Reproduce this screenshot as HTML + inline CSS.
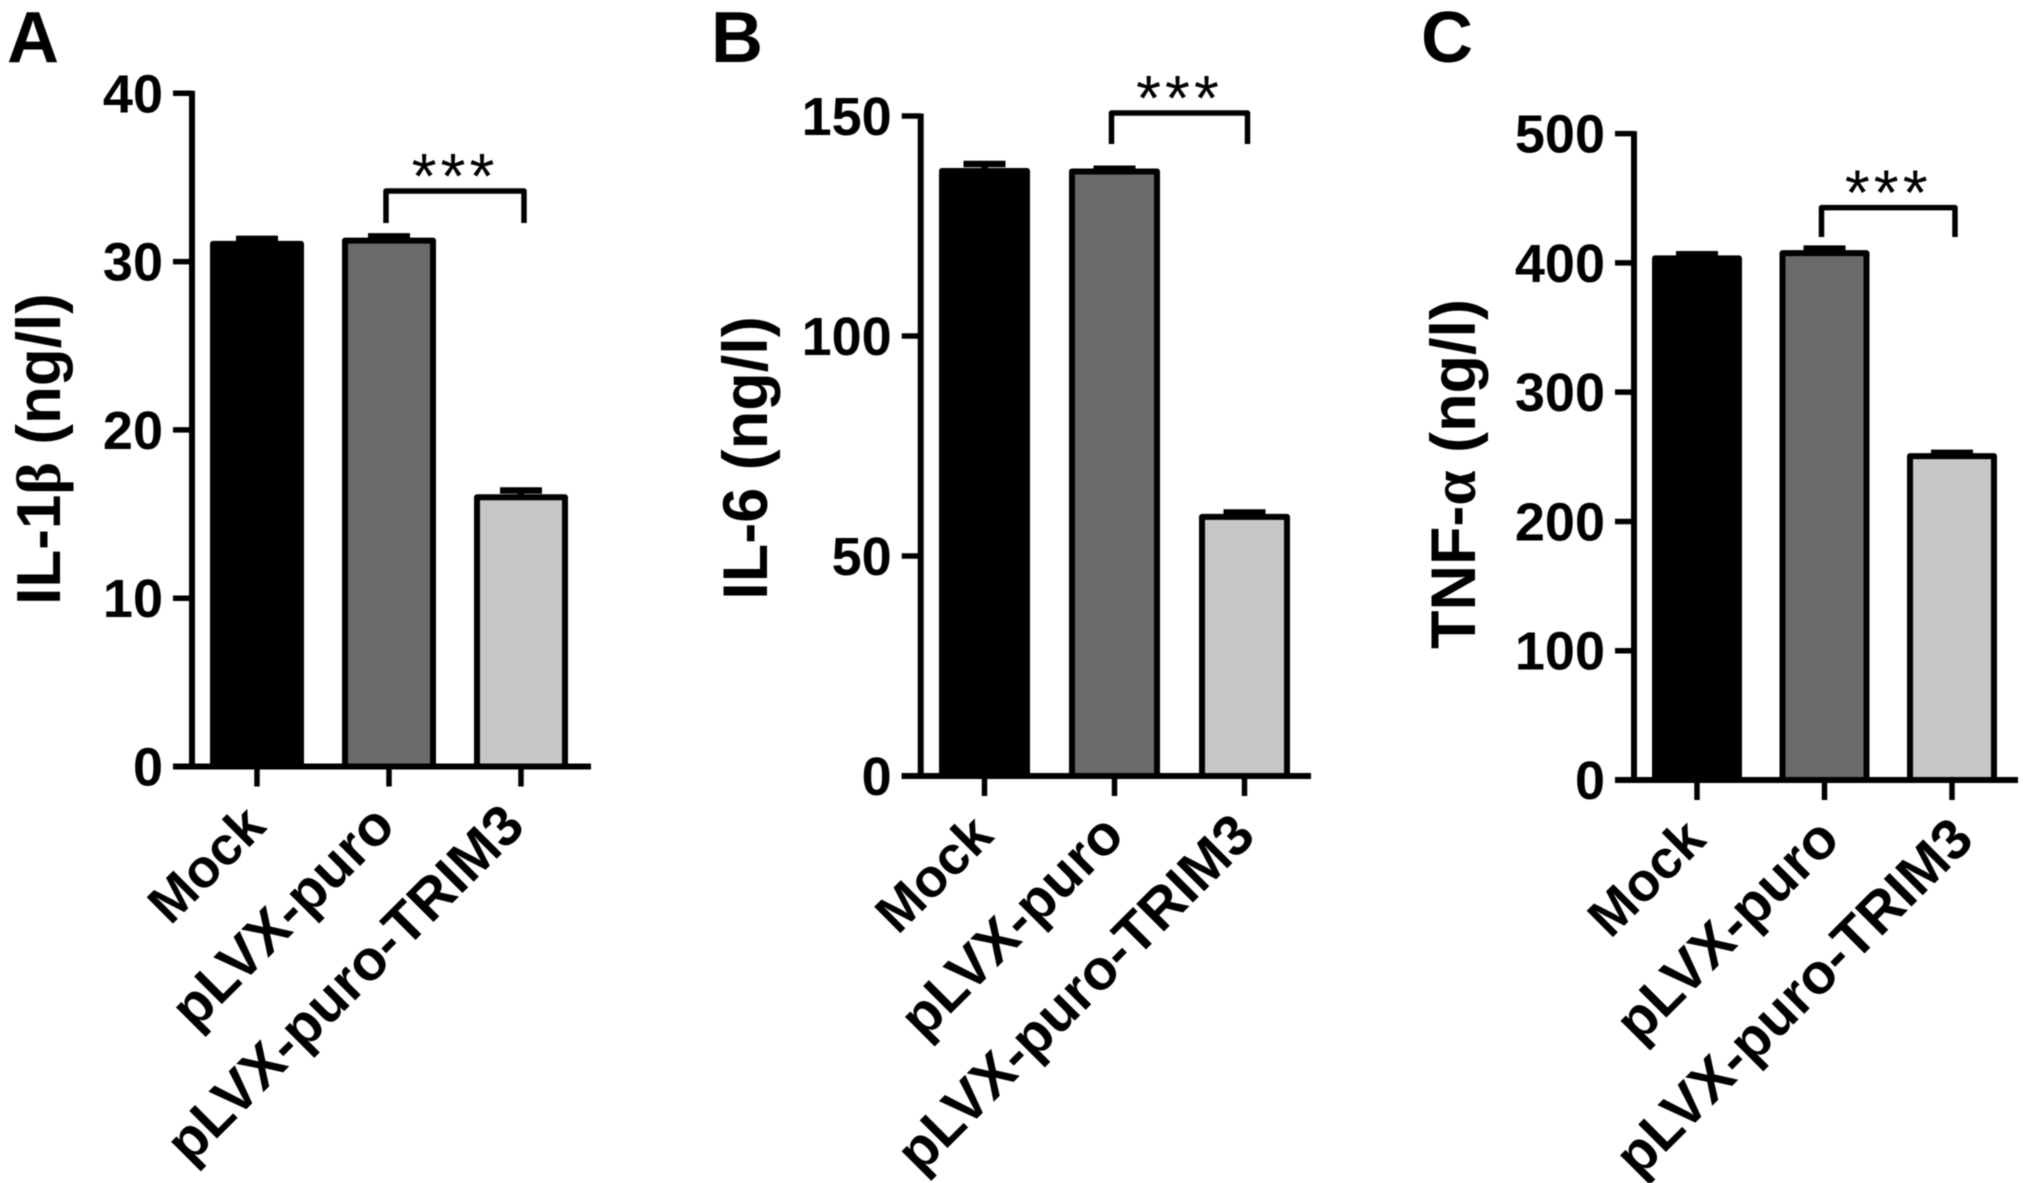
<!DOCTYPE html>
<html lang="en">
<head>
<meta charset="utf-8">
<title>Cytokine levels by treatment group</title>
<style>
html,body{margin:0;padding:0;background:#fff;}
svg{display:block;filter:blur(0.6px);}
text{font-family:"Liberation Sans",Arial,sans-serif;font-weight:700;fill:#000;}
</style>
</head>
<body>
<svg id="chart" xmlns="http://www.w3.org/2000/svg" width="2031" height="1183" viewBox="0 0 2031 1183"></svg>
<script>
const categories = ['Mock', 'pLVX-puro', 'pLVX-puro-TRIM3'];
const il1bValues = [31.05, 31.25, 16.0];
const il1bErrors = [0.3, 0.25, 0.4];
const il1bTicks = [0, 10, 20, 30, 40];
const il6Values = [137.5, 137.4, 58.9];
const il6Errors = [1.6, 0.6, 1];
const il6Ticks = [0, 50, 100, 150];
const tnfValues = [403.5, 407.5, 250.5];
const tnfErrors = [3.2, 3.5, 2.5];
const tnfTicks = [0, 100, 200, 300, 400, 500];

const barFills = ['#000000', '#6a6a6a', '#c6c6c6'];
const NS = 'http://www.w3.org/2000/svg';
const svg = document.getElementById('chart');

function make(tag, attrs, parent) {
  const el = document.createElementNS(NS, tag);
  for (const k in attrs) el.setAttribute(k, attrs[k]);
  parent.appendChild(el);
  return el;
}

function drawPanel(p) {
  const g = make('g', {}, svg);
  
  

  const yMax = p.ticks[p.ticks.length - 1];
  const yScale = v => p.y0 - (v / yMax) * (p.y0 - p.yTop);
  const xScale = i => p.x0 + p.step * i;

  const letter = make('text', {x: p.letterX, y: 62, 'font-size': 72}, g);
  letter.textContent = p.letter;
  
  

  p.values.forEach((v, i) => {
    const cx = xScale(i);
    const errLine = make('path', {
      d: 'M' + cx + ' ' + yScale(v) + 'V' + yScale(v + p.errors[i]) +
         'M' + (cx - p.capW / 2) + ' ' + yScale(v + p.errors[i]) + 'H' + (cx + p.capW / 2),
      stroke: '#000', 'stroke-width': 6.5, fill: 'none'
    }, g);
    
    

    const bar = make('rect', {
      x: cx - p.barW / 2 + 3, y: yScale(v),
      width: p.barW - 6, height: p.y0 - yScale(v),
      fill: barFills[i], stroke: '#000', 'stroke-width': 6, 'stroke-linejoin': 'round'
    }, g);
    
    
  });

  const yAxis = make('line', {x1: p.axisX, x2: p.axisX, y1: p.yTop - 2.5, y2: p.y0 + 2.5, stroke: '#000', 'stroke-width': 6}, g);
  
  

  const xAxis = make('line', {x1: p.axisX - 19, x2: p.axisRight, y1: p.y0, y2: p.y0, stroke: '#000', 'stroke-width': 6}, g);
  
  

  p.ticks.forEach(t => {
    const y = yScale(t);
    const tick = make('line', {x1: p.axisX - 19, x2: p.axisX, y1: y, y2: y, stroke: '#000', 'stroke-width': 5.5}, g);
    
    

    const label = make('text', {x: p.axisX - 29, y: y + 19, 'font-size': 54, 'text-anchor': 'end'}, g);
    label.textContent = String(t);
    
    
  });

  categories.forEach((c, i) => {
    const x = xScale(i);
    const tick = make('line', {x1: x, x2: x, y1: p.y0, y2: p.y0 + 20, stroke: '#000', 'stroke-width': 5.5}, g);
    
    

    const lx = p.x0 + 11 + p.labelStep * i;
    const ly = p.y0 + 62;
    const label = make('text', {
      x: lx, y: ly, 'font-size': i === 0 ? 54 : 57, 'text-anchor': 'end',
      transform: 'rotate(-45 ' + lx + ' ' + ly + ')'
    }, g);
    label.textContent = c;
    
    
  });

  const title = make('text', {
    x: 0, y: 0, 'font-size': p.titleSize, 'text-anchor': 'middle',
    transform: 'translate(' + p.titleX + ' ' + p.titleY + ') rotate(-90)'
  }, g);
  
  
  const t1 = make('tspan', {}, title);
  t1.textContent = p.titleA;
  const t2 = make('tspan', {'font-family': '"Liberation Serif","DejaVu Serif",serif'}, title);
  t2.textContent = p.titleGreek;
  const t3 = make('tspan', {}, title);
  t3.textContent = p.titleB;

  const bx1 = xScale(1) - 3;
  const bx2 = xScale(2) + 3;
  const bracket = make('path', {
    d: 'M' + bx1 + ' ' + p.brBottom + 'V' + p.brTop + 'H' + bx2 + 'V' + p.brBottom,
    fill: 'none', stroke: '#000', 'stroke-width': 5.5, 'stroke-linejoin': 'round'
  }, g);
  
  

  const stars = make('text', {
    x: (bx1 + bx2) / 2, y: p.brTop + 7, 'font-size': 64, 'text-anchor': 'middle',
    style: 'font-weight:400;letter-spacing:4px'
  }, g);
  stars.textContent = '***';
  
  
}

drawPanel({key: 'il-1b', letter: 'A', letterX: 7, values: il1bValues, errors: il1bErrors, ticks: il1bTicks,
  axisX: 192, axisRight: 591, yTop: 93.3, y0: 766.5, x0: 257, step: 132, labelStep: 129.5, barW: 94, capW: 42, titleSize: 62,
  titleA: 'IL-1', titleGreek: 'β', titleB: ' (ng/l)', titleX: 60, titleY: 449, brTop: 191, brBottom: 223});

drawPanel({key: 'il-6', letter: 'B', letterX: 711, values: il6Values, errors: il6Errors, ticks: il6Ticks,
  axisX: 920.7, axisRight: 1311, yTop: 116, y0: 776, x0: 984.5, step: 130, labelStep: 131, barW: 91, capW: 42, titleSize: 63,
  titleA: 'IL-6', titleGreek: '', titleB: ' (ng/l)', titleX: 767, titleY: 458, brTop: 113, brBottom: 144});

drawPanel({key: 'tnf-a', letter: 'C', letterX: 1421, values: tnfValues, errors: tnfErrors, ticks: tnfTicks,
  axisX: 1634, axisRight: 2018, yTop: 133.6, y0: 780, x0: 1697, step: 127.5, labelStep: 134, barW: 90, capW: 42, titleSize: 63,
  titleA: 'TNF-', titleGreek: 'α', titleB: ' (ng/l)', titleX: 1475, titleY: 474, brTop: 207.6, brBottom: 237});
</script>
</body>
</html>
